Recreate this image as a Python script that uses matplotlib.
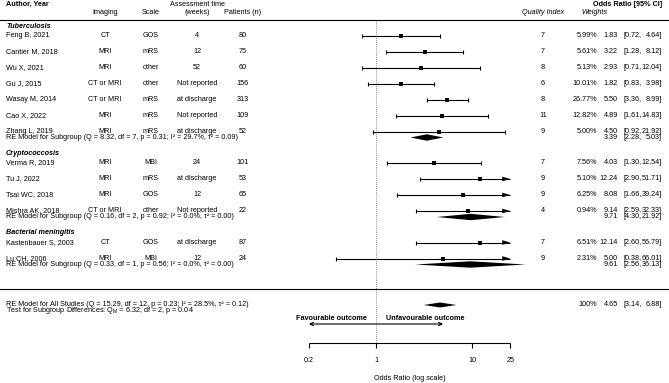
import matplotlib
matplotlib.use('Agg')
import matplotlib.pyplot as plt
import matplotlib.transforms as mtransforms
import numpy as np

plt.rcParams['font.family'] = ['Liberation Sans', 'DejaVu Sans']

# study level data
groups = ['Tuberculosis', 'Cryptococcosis', 'Bacterial meningitis']
group_sizes = [7, 4, 2]
authors = ['Feng B, 2021', 'Cantier M, 2018', 'Wu X, 2021', 'Gu J, 2015', 'Wasay M, 2014',
           'Cao X, 2022', 'Zhang L, 2019',
           'Verma R, 2019', 'Tu J, 2022', 'Tsai WC, 2018', 'Mishra AK, 2018',
           'Kastenbauer S, 2003', 'Lu CH, 2006']
imaging = ['CT', 'MRI', 'MRI', 'CT or MRI', 'CT or MRI', 'MRI', 'MRI',
           'MRI', 'MRI', 'MRI', 'CT or MRI',
           'CT', 'MRI']
scale = ['GOS', 'mRS', 'other', 'other', 'mRS', 'mRS', 'mRS',
         'MBI', 'mRS', 'GOS', 'other',
         'GOS', 'MBI']
assess = ['4', '12', '52', 'Not reported', 'at discharge', 'Not reported', 'at discharge',
          '24', 'at discharge', '12', 'Not reported',
          'at discharge', '12']
patients = [80, 75, 60, 156, 313, 109, 52, 101, 53, 65, 22, 87, 24]
quality = [7, 7, 8, 6, 8, 11, 9, 7, 9, 9, 4, 7, 9]
weights = [5.99, 5.61, 5.13, 10.01, 26.77, 12.82, 5.00, 7.56, 5.10, 6.25, 0.94, 6.51, 2.31]
or_est = [1.83, 3.22, 2.93, 1.82, 5.50, 4.89, 4.50, 4.03, 12.24, 8.08, 9.14, 12.14, 5.00]
or_lo = [0.72, 1.28, 0.71, 0.83, 3.36, 1.61, 0.92, 1.30, 2.90, 1.66, 2.59, 2.60, 0.38]
or_hi = [4.64, 8.12, 12.04, 3.98, 8.99, 14.83, 21.92, 12.54, 51.71, 39.24, 32.33, 56.79, 66.01]

# subgroup models
sub_est = [3.39, 9.71, 9.61]
sub_lo = [2.28, 4.30, 2.56]
sub_hi = [5.03, 21.92, 36.13]
sub_text = ['RE Model for Subgroup (Q = 8.32, df = 7, p = 0.31; I² = 29.7%, τ² = 0.09)',
            'RE Model for Subgroup (Q = 0.16, df = 2, p = 0.92; I² = 0.0%, τ² = 0.00)',
            'RE Model for Subgroup (Q = 0.33, df = 1, p = 0.56; I² = 0.0%, τ² = 0.00)']

# overall model
all_est, all_lo, all_hi = 4.65, 3.14, 6.88
all_text = 'RE Model for All Studies (Q = 15.29, df = 12, p = 0.23; I² = 28.5%, τ² = 0.12)'
test_text = 'Test for Subgroup Differences: Q$_\\mathregular{M}$ = 6.32, df = 2, p = 0.04'

axis_ticks = [0.2, 1, 10, 25]
axis_labels = ['0.2', '1', '10', '25']

W, H = 669, 383
fs = 5.2

fig = plt.figure(figsize=(W / 100, H / 100), dpi=100)
ax = fig.add_axes([0, 0, 1, 1])
ax.set_xscale('log')
ppd = 96.0   # pixels per decade
x_one = 376.0
ax.set_xlim(10 ** (-x_one / ppd), 10 ** ((W - x_one) / ppd))
ax.set_ylim(H, 0)
ax.axis('off')
tr = mtransforms.blended_transform_factory(ax.transAxes, ax.transData)


def txt(px, y, s, **kw):
    kw.setdefault('va', 'center')
    kw.setdefault('fontsize', fs)
    ax.text(px / W, y, s, transform=tr, **kw)


def ci_text(y, est, lo, hi):
    txt(618, y, '%.2f' % est, ha='right')
    txt(642, y, '[%.2f,' % lo, ha='right')
    txt(662, y, '%.2f]' % hi, ha='right')


amin, amax = axis_ticks[0], axis_ticks[-1]
head = 10 ** (8 / ppd)

# headers
txt(6, 4, 'Author, Year', ha='left', fontweight='bold')
txt(197, 4, 'Assessment time', ha='center')
txt(197, 12.5, '(weeks)', ha='center')
txt(105, 12.5, 'Imaging', ha='center')
txt(151, 12.5, 'Scale', ha='center')
txt(243, 12.5, 'Patients (n)', ha='center')
txt(543, 12.5, 'Quality Index', ha='center', fontstyle='italic')
txt(581, 12.5, 'Weights', ha='left', fontstyle='italic')
txt(662, 4, 'Odds Ratio [95% CI]', ha='right', fontweight='bold')
ax.axhline(20, color='k', lw=0.8)
ax.axhline(289, color='k', lw=0.8)
ax.vlines(1, 21, 343, colors='#666666', linestyles=(0, (1, 1.5)), lw=0.6)

k = 0
start = 35.5
for g, n in enumerate(group_sizes):
    ys = start + 16 * np.arange(n)
    txt(6, ys[0] - 9.5, groups[g], ha='left', fontweight='bold', fontstyle='italic')
    for y in ys:
        txt(6, y, authors[k], ha='left')
        txt(105, y, imaging[k], ha='center')
        txt(151, y, scale[k], ha='center')
        txt(197, y, assess[k], ha='center')
        txt(243, y, str(patients[k]), ha='center')
        txt(543, y, str(quality[k]), ha='center')
        txt(597, y, '%.2f%%' % weights[k], ha='right')
        ci_text(y, or_est[k], or_lo[k], or_hi[k])
        lo = max(or_lo[k], amin)
        hi = min(or_hi[k], amax)
        ax.hlines(y, lo, hi, colors='k', lw=0.8)
        if or_lo[k] < amin:
            ax.fill([amin, amin * head, amin * head], [y, y - 2.3, y + 2.3], color='k', lw=0)
        else:
            ax.vlines(lo, y - 2, y + 2, colors='k', lw=0.8)
        if or_hi[k] > amax:
            ax.fill([amax, amax / head, amax / head], [y, y - 2.3, y + 2.3], color='k', lw=0)
        else:
            ax.vlines(hi, y - 2, y + 2, colors='k', lw=0.8)
        ax.plot(or_est[k], y, 's', ms=3, color='k', mew=0)
        k += 1
    ysub = ys[-1] + 6
    txt(6, ysub, sub_text[g], ha='left')
    ci_text(ysub, sub_est[g], sub_lo[g], sub_hi[g])
    ax.fill([sub_lo[g], sub_est[g], sub_hi[g], sub_est[g]],
            [ysub, ysub - 3.2, ysub, ysub + 3.2], color='k', lw=0)
    start = ys[-1] + 31.5

# overall
yall = 305
txt(6, yall, all_text, ha='left')
txt(6, yall + 6, test_text, ha='left')
txt(597, yall, '100%', ha='right')
ci_text(yall, all_est, all_lo, all_hi)
ax.fill([all_lo, all_est, all_hi, all_est], [yall, yall - 2.5, yall, yall + 2.5], color='k', lw=0)

# favour arrows
ax.annotate('', xy=(0.2, 324), xytext=(5, 324),
            arrowprops=dict(arrowstyle='<->', lw=0.8, shrinkA=0, shrinkB=0, mutation_scale=6))
txt(367, 318, 'Favourable outcome', ha='right', fontweight='bold')
txt(386, 318, 'Unfavourable outcome', ha='left', fontweight='bold')

# x axis
ax.hlines(343, amin, amax, colors='k', lw=0.8)
ax.vlines(axis_ticks, 343, 348, colors='k', lw=0.8)
for t, lab in zip(axis_ticks, axis_labels):
    ax.text(t, 361, lab, ha='center', va='center', fontsize=fs)
ax.text(np.sqrt(amin * amax), 379, 'Odds Ratio (log scale)', ha='center', va='center', fontsize=fs)

fig.savefig('out.png', dpi=100)
